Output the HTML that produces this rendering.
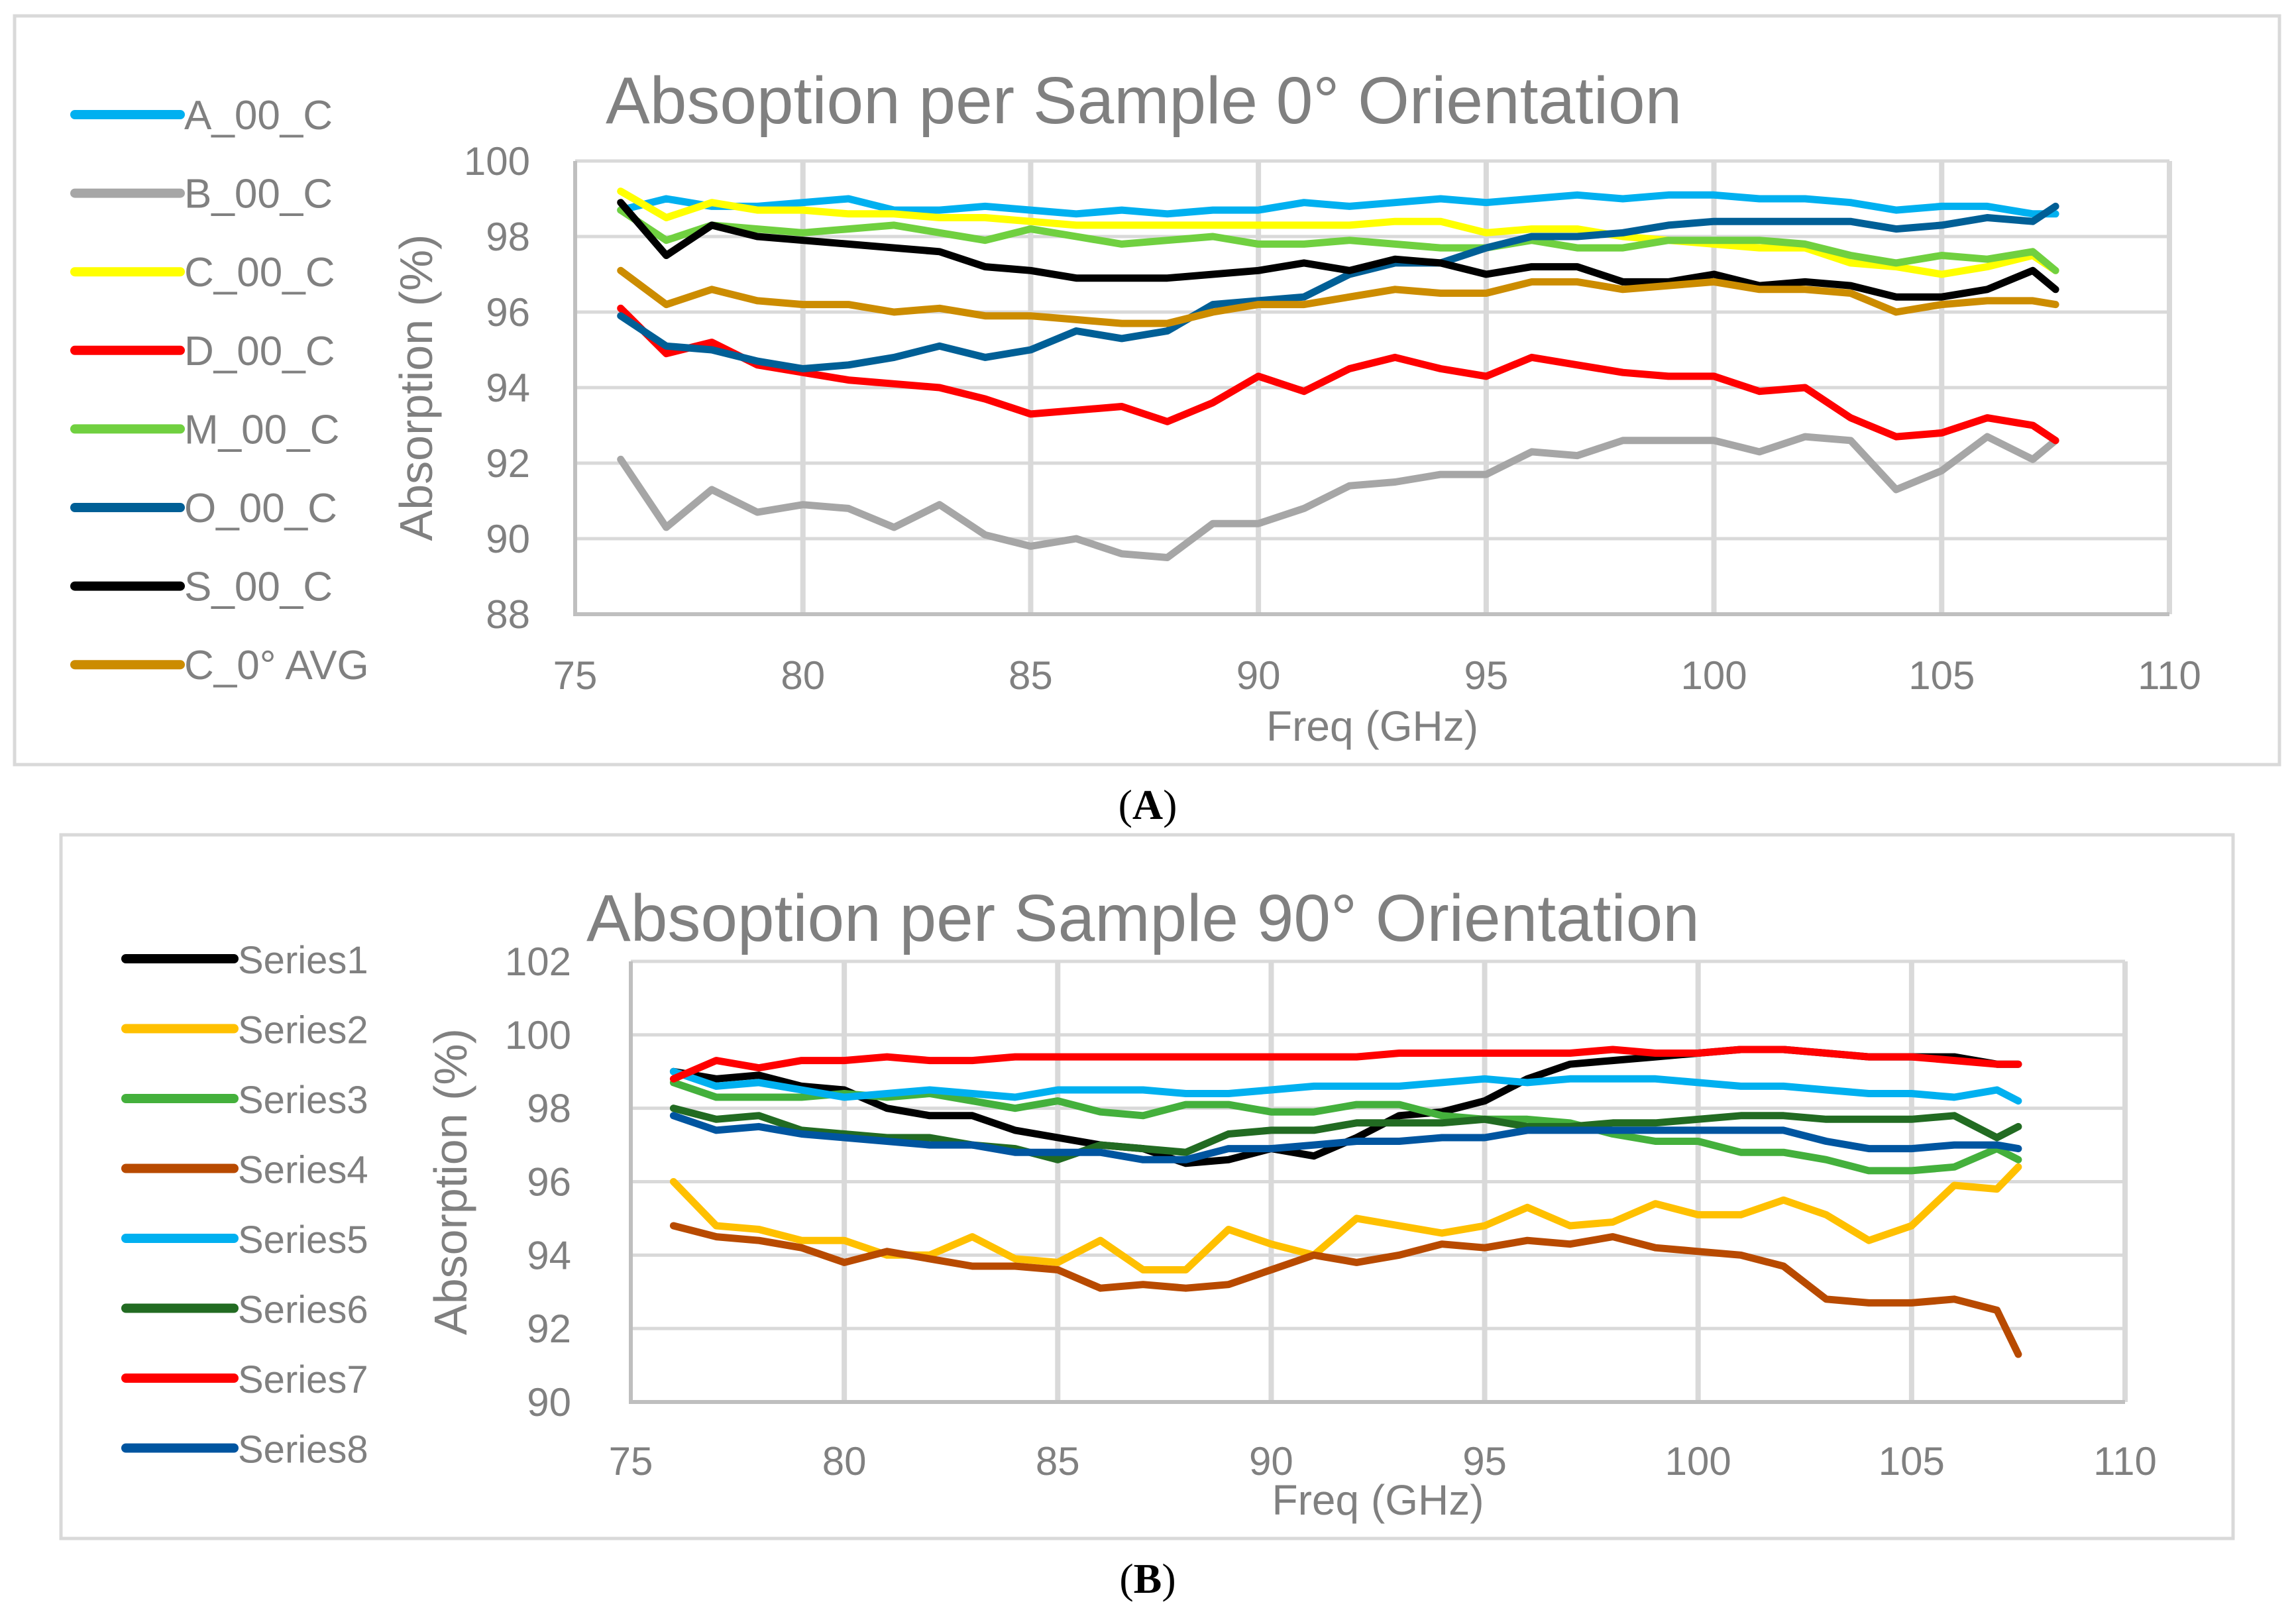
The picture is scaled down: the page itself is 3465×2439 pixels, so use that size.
<!DOCTYPE html>
<html><head><meta charset="utf-8">
<style>
html,body{margin:0;padding:0;background:#fff;}
svg{display:block;font-family:"Liberation Sans",sans-serif;}
</style></head>
<body>
<svg id="svg" width="3465" height="2439" viewBox="0 0 3465 2439" xmlns="http://www.w3.org/2000/svg">
<rect x="0" y="0" width="3465" height="2439" fill="#fff"/>
<rect x="22" y="24" width="3418" height="1130" fill="#fff" stroke="#d9d9d9" stroke-width="5"/>
<rect x="92" y="1260" width="3278" height="1062" fill="#fff" stroke="#d9d9d9" stroke-width="5"/>
<text x="1732" y="1236" text-anchor="middle" font-family="Liberation Serif,serif" font-size="64" fill="#000">(<tspan font-weight="bold">A</tspan>)</text>
<text x="1732" y="2404" text-anchor="middle" font-family="Liberation Serif,serif" font-size="64" fill="#000">(<tspan font-weight="bold">B</tspan>)</text>
<g id="ga"></g><g id="gb"></g>
</svg>
<script>
const freq = [76,77,78,79,80,81,82,83,84,85,86,87,88,89,90,91,92,93,94,95,96,97,98,99,100,101,102,103,104,105,106,107,107.5];
const namesA = ["A_00_C","B_00_C","C_00_C","D_00_C","M_00_C","O_00_C","S_00_C","C_0° AVG"];
const colorsA = ["#00b0f0","#a6a6a6","#ffff00","#ff0000","#70d040","#005f96","#000000","#cc8c00"];
const a_A = [98.7,99.0,98.8,98.8,98.9,99.0,98.7,98.7,98.8,98.7,98.6,98.7,98.6,98.7,98.7,98.9,98.8,98.9,99.0,98.9,99.0,99.1,99.0,99.1,99.1,99.0,99.0,98.9,98.7,98.8,98.8,98.6,98.6];
const a_B = [92.1,90.3,91.3,90.7,90.9,90.8,90.3,90.9,90.1,89.8,90.0,89.6,89.5,90.4,90.4,90.8,91.4,91.5,91.7,91.7,92.3,92.2,92.6,92.6,92.6,92.3,92.7,92.6,91.3,91.8,92.7,92.1,92.6];
const a_C = [99.2,98.5,98.9,98.7,98.7,98.6,98.6,98.5,98.5,98.4,98.3,98.3,98.3,98.3,98.3,98.3,98.3,98.4,98.4,98.1,98.2,98.2,98.0,97.9,97.8,97.7,97.7,97.3,97.2,97.0,97.2,97.5,97.1];
const a_D = [96.1,94.9,95.2,94.6,94.4,94.2,94.1,94.0,93.7,93.3,93.4,93.5,93.1,93.6,94.3,93.9,94.5,94.8,94.5,94.3,94.8,94.6,94.4,94.3,94.3,93.9,94.0,93.2,92.7,92.8,93.2,93.0,92.6];
const a_M = [98.7,97.9,98.3,98.2,98.1,98.2,98.3,98.1,97.9,98.2,98.0,97.8,97.9,98.0,97.8,97.8,97.9,97.8,97.7,97.7,97.9,97.7,97.7,97.9,97.9,97.9,97.8,97.5,97.3,97.5,97.4,97.6,97.1];
const a_O = [95.9,95.1,95.0,94.7,94.5,94.6,94.8,95.1,94.8,95.0,95.5,95.3,95.5,96.2,96.3,96.4,97.0,97.3,97.3,97.7,98.0,98.0,98.1,98.3,98.4,98.4,98.4,98.4,98.2,98.3,98.5,98.4,98.8];
const a_S = [98.9,97.5,98.3,98.0,97.9,97.8,97.7,97.6,97.2,97.1,96.9,96.9,96.9,97.0,97.1,97.3,97.1,97.4,97.3,97.0,97.2,97.2,96.8,96.8,97.0,96.7,96.8,96.7,96.4,96.4,96.6,97.1,96.6];
const a_AVG = [97.1,96.2,96.6,96.3,96.2,96.2,96.0,96.1,95.9,95.9,95.8,95.7,95.7,96.0,96.2,96.2,96.4,96.6,96.5,96.5,96.8,96.8,96.6,96.7,96.8,96.6,96.6,96.5,96.0,96.2,96.3,96.3,96.2];
const namesB = ["Series1","Series2","Series3","Series4","Series5","Series6","Series7","Series8"];
const colorsB = ["#000000","#ffc000","#44b03c","#b84a00","#00b0f0","#226b22","#ff0000","#0055a0"];
const b_1 = [99.0,98.8,98.9,98.6,98.5,98.0,97.8,97.8,97.4,97.2,97.0,96.9,96.5,96.6,96.9,96.7,97.2,97.8,97.9,98.2,98.8,99.2,99.3,99.4,99.5,99.6,99.6,99.5,99.4,99.4,99.4,99.2,99.2];
const b_2 = [96.0,94.8,94.7,94.4,94.4,94.0,94.0,94.5,93.9,93.8,94.4,93.6,93.6,94.7,94.3,94.0,95.0,94.8,94.6,94.8,95.3,94.8,94.9,95.4,95.1,95.1,95.5,95.1,94.4,94.8,95.9,95.8,96.4];
const b_3 = [98.7,98.3,98.3,98.3,98.4,98.3,98.4,98.2,98.0,98.2,97.9,97.8,98.1,98.1,97.9,97.9,98.1,98.1,97.8,97.7,97.7,97.6,97.3,97.1,97.1,96.8,96.8,96.6,96.3,96.3,96.4,96.9,96.6];
const b_4 = [94.8,94.5,94.4,94.2,93.8,94.1,93.9,93.7,93.7,93.6,93.1,93.2,93.1,93.2,93.6,94.0,93.8,94.0,94.3,94.2,94.4,94.3,94.5,94.2,94.1,94.0,93.7,92.8,92.7,92.7,92.8,92.5,91.3];
const b_5 = [99.0,98.6,98.7,98.5,98.3,98.4,98.5,98.4,98.3,98.5,98.5,98.5,98.4,98.4,98.5,98.6,98.6,98.6,98.7,98.8,98.7,98.8,98.8,98.8,98.7,98.6,98.6,98.5,98.4,98.4,98.3,98.5,98.2];
const b_6 = [98.0,97.7,97.8,97.4,97.3,97.2,97.2,97.0,96.9,96.6,97.0,96.9,96.8,97.3,97.4,97.4,97.6,97.6,97.6,97.7,97.5,97.5,97.6,97.6,97.7,97.8,97.8,97.7,97.7,97.7,97.8,97.2,97.5];
const b_7 = [98.8,99.3,99.1,99.3,99.3,99.4,99.3,99.3,99.4,99.4,99.4,99.4,99.4,99.4,99.4,99.4,99.4,99.5,99.5,99.5,99.5,99.5,99.6,99.5,99.5,99.6,99.6,99.5,99.4,99.4,99.3,99.2,99.2];
const b_8 = [97.8,97.4,97.5,97.3,97.2,97.1,97.0,97.0,96.8,96.8,96.8,96.6,96.6,96.9,96.9,97.0,97.1,97.1,97.2,97.2,97.4,97.4,97.4,97.4,97.4,97.4,97.4,97.1,96.9,96.9,97.0,97.0,96.9];
const xTicks = [75,80,85,90,95,100,105,110];
const yTicksA = [88,90,92,94,96,98,100];
const yTicksB = [90,92,94,96,98,100,102];

const NS="http://www.w3.org/2000/svg";
function mk(parent,tag,attrs,text){const e=document.createElementNS(NS,tag);for(const k in attrs)e.setAttribute(k,attrs[k]);if(text!==undefined)e.textContent=text;parent.appendChild(e);return e;}

function chart(g,cfg){
  const sx=v=>cfg.x0+(v-75)/35*(cfg.x1-cfg.x0);
  const sy=v=>cfg.yb+(v-cfg.ymin)/(cfg.ymax-cfg.ymin)*(cfg.yt-cfg.yb);
  cfg.yTicks.forEach(t=>{
    if(t!==cfg.ymin){const l=mk(g,'line',{x1:cfg.x0,x2:cfg.x1,y1:sy(t),y2:sy(t),stroke:'#d9d9d9','stroke-width':5});
    
    }
    const tx=mk(g,'text',{x:cfg.x0-cfg.tko,y:sy(t)+21,'text-anchor':'end','font-size':cfg.tf,fill:'#808080'},String(t));
    
    
  });
  xTicks.forEach(t=>{
    if(t!==75){const l=mk(g,'line',{x1:sx(t),x2:sx(t),y1:cfg.yt,y2:cfg.yb,stroke:'#d9d9d9','stroke-width':8});
    
    }
    const tx=mk(g,'text',{x:sx(t),y:cfg.xly,'text-anchor':'middle','font-size':cfg.tf,fill:'#808080'},String(t));
    
    
  });
  const ax=mk(g,'path',{d:`M${cfg.x0},${cfg.yt} V${cfg.yb} H${cfg.x1}`,fill:'none',stroke:'#bfbfbf','stroke-width':6});
  
  
  cfg.series.forEach((s,i)=>{
    const d=s.map((v,j)=>(j?'L':'M')+sx(freq[j]).toFixed(1)+','+sy(v).toFixed(1)).join(' ');
    const p=mk(g,'path',{d:d,fill:'none',stroke:cfg.colors[i],'stroke-width':11,'stroke-linejoin':'round','stroke-linecap':'round'});
    
    
    const ly=cfg.lg0+i*cfg.lgs;
    const ll=mk(g,'line',{x1:cfg.lx0,x2:cfg.lx1,y1:ly,y2:ly,stroke:cfg.colors[i],'stroke-width':14,'stroke-linecap':'round'});
    
    
    const lt=mk(g,'text',{x:cfg.lx1+6,y:ly+22,'font-size':cfg.lf,fill:'#808080'},cfg.names[i]);
    
    
  });
  const t=mk(g,'text',{x:cfg.tx,y:cfg.ty,'font-size':cfg.ttf,fill:'#808080'},cfg.title);
  
  
  const xt=mk(g,'text',{x:(cfg.x0+cfg.x1)/2,y:cfg.xty,'text-anchor':'middle','font-size':cfg.af,fill:'#808080'},'Freq (GHz)');
  
  
  const yt=mk(g,'text',{x:0,y:0,'text-anchor':'middle','font-size':cfg.af+6,fill:'#808080',transform:`translate(${cfg.ytx},${(cfg.yt+cfg.yb)/2}) rotate(-90)`},'Absorption (%)');
  
  
}
chart(document.getElementById('ga'),{x0:868,x1:3274,yt:243,yb:927,ymin:88,ymax:100,yTicks:yTicksA,
  series:[a_A,a_B,a_C,a_D,a_M,a_O,a_S,a_AVG],names:namesA,colors:colorsA,tko:68,
  tf:60,xly:1040,lg0:173,lgs:118.6,lx0:113,lx1:272,lf:62,title:'Absoption per Sample 0° Orientation',tx:914,ty:186,ttf:100,af:64,xty:1118,ytx:652});
chart(document.getElementById('gb'),{x0:952,x1:3207,yt:1451,yb:2116,ymin:90,ymax:102,yTicks:yTicksB,tko:90,
  series:[b_1,b_2,b_3,b_4,b_5,b_6,b_7,b_8],names:namesB,colors:colorsB,
  tf:60,xly:2226,lg0:1447,lgs:105.5,lx0:190,lx1:353,lf:58,title:'Absoption per Sample 90° Orientation',tx:885,ty:1420,ttf:100,af:64,xty:2286,ytx:704});
</script>
</body></html>
